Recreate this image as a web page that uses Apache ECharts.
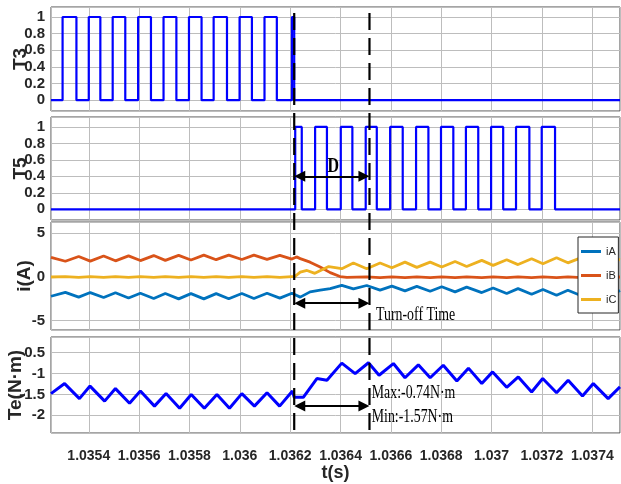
<!DOCTYPE html>
<html><head><meta charset="utf-8">
<script src="https://cdn.jsdelivr.net/npm/echarts@6/dist/echarts.min.js"></script>
<style>html,body{margin:0;padding:0;background:#fff}#c{width:621px;height:484px}</style>
</head><body><div id="c"></div>
<script>
// ---- data ----
const X_MIN = 1.03525, X_MAX = 1.03751;
const DASH_T = [1.036216, 1.036515];
const ARROW_T = [1.036238, 1.036493];

const T3_rise = [1.035296, 1.0354, 1.035495, 1.035596, 1.035697, 1.035798, 1.035896, 1.035999, 1.036098, 1.036207];
const T3_fall = [1.035351, 1.035446, 1.035545, 1.035647, 1.035748, 1.035848, 1.035949, 1.036048, 1.036147, 1.036216];

const T5_rise = [1.03622, 1.036299, 1.036401, 1.0365, 1.036597, 1.0367, 1.036799, 1.036898, 1.036998, 1.037097, 1.037199];
const T5_fall = [1.036246, 1.036346, 1.036447, 1.036544, 1.036647, 1.036749, 1.036848, 1.036947, 1.037046, 1.03715, 1.037252];

const iA_t = [1.03525, 1.035307, 1.03536, 1.035406, 1.035459, 1.035506, 1.035558, 1.035605, 1.035658, 1.035704, 1.035757, 1.035806, 1.035857, 1.035906, 1.035956, 1.036008, 1.036056, 1.036108, 1.036159, 1.036207, 1.03624, 1.036279, 1.036319, 1.036359, 1.036405, 1.036451, 1.036504, 1.036557, 1.036604, 1.036656, 1.036703, 1.036756, 1.036802, 1.036855, 1.036901, 1.036961, 1.037006, 1.03706, 1.037105, 1.037159, 1.037204, 1.037258, 1.037303, 1.037359, 1.037402, 1.037462, 1.03751];
const iA_v = [-2.2, -1.75, -2.3, -1.78, -2.35, -1.8, -2.4, -1.85, -2.45, -1.88, -2.5, -1.9, -2.5, -1.9, -2.48, -1.88, -2.45, -1.86, -2.42, -1.85, -2.3, -1.7, -1.5, -1.32, -0.95, -1.35, -0.97, -1.5, -1.05, -1.58, -1.07, -1.63, -1.12, -1.7, -1.16, -1.78, -1.25, -1.88, -1.33, -1.98, -1.42, -2.08, -1.52, -2.18, -1.6, -2.25, -1.55];

const iB_t = [1.03525, 1.035307, 1.03536, 1.035406, 1.035459, 1.035506, 1.035558, 1.035605, 1.035658, 1.035704, 1.035757, 1.035806, 1.035857, 1.035906, 1.035956, 1.036008, 1.036056, 1.036108, 1.036159, 1.036207, 1.036225, 1.03624, 1.036279, 1.036319, 1.036359, 1.036398, 1.036425, 1.036504, 1.036557, 1.036604, 1.036656, 1.036703, 1.036756, 1.036802, 1.036855, 1.036901, 1.036961, 1.037006, 1.03706, 1.037105, 1.037159, 1.037204, 1.037258, 1.037303, 1.037359, 1.037402, 1.037462, 1.03751];
const iB_v = [2.25, 1.8, 2.35, 1.82, 2.4, 1.85, 2.42, 1.88, 2.45, 1.9, 2.48, 1.95, 2.5, 1.98, 2.5, 2.0, 2.5, 2.02, 2.48, 2.05, 2.3, 2.1, 1.7, 1.15, 0.5, 0.05, -0.05, 0.02, -0.06, 0.02, -0.06, 0.02, -0.06, 0.02, -0.06, 0.02, -0.06, 0.02, -0.06, 0.02, -0.06, 0.02, -0.06, 0.02, -0.06, 0.02, -0.06, 0.0];

const iC_t = [1.03525, 1.035307, 1.03536, 1.035406, 1.035459, 1.035506, 1.035558, 1.035605, 1.035658, 1.035704, 1.035757, 1.035806, 1.035857, 1.035906, 1.035956, 1.036008, 1.036056, 1.036108, 1.036159, 1.036207, 1.036218, 1.03624, 1.036267, 1.036298, 1.036353, 1.036405, 1.036451, 1.036504, 1.036557, 1.036604, 1.036656, 1.036703, 1.036756, 1.036802, 1.036855, 1.036901, 1.036961, 1.037006, 1.03706, 1.037105, 1.037159, 1.037204, 1.037258, 1.037303, 1.037359, 1.037402, 1.037462, 1.03751];
const iC_v = [0.0, 0.05, -0.05, 0.05, -0.05, 0.05, -0.05, 0.05, -0.05, 0.05, -0.05, 0.05, -0.05, 0.05, -0.05, 0.05, -0.05, 0.05, -0.05, 0.05, 0.05, 0.55, 0.75, 0.42, 1.2, 0.95, 1.6, 0.95, 1.6, 1.05, 1.7, 1.1, 1.7, 1.14, 1.78, 1.2, 1.9, 1.33, 1.97, 1.42, 2.09, 1.52, 2.2, 1.62, 2.25, 1.7, 2.3, 1.97];

const Te_t = [1.03525, 1.035304, 1.035363, 1.035405, 1.035463, 1.035506, 1.035562, 1.035605, 1.035661, 1.035707, 1.035761, 1.035807, 1.035859, 1.035909, 1.035959, 1.036008, 1.036058, 1.036108, 1.036158, 1.036209, 1.036216, 1.036252, 1.036306, 1.036346, 1.036405, 1.036458, 1.036511, 1.036553, 1.03661, 1.036656, 1.036709, 1.036756, 1.036808, 1.036862, 1.036908, 1.036961, 1.037004, 1.03706, 1.037106, 1.037159, 1.037203, 1.037258, 1.037304, 1.037361, 1.037404, 1.037463, 1.03751];
const Te_v = [-1.48, -1.24, -1.6, -1.3, -1.66, -1.36, -1.71, -1.42, -1.78, -1.48, -1.83, -1.5, -1.83, -1.5, -1.83, -1.48, -1.78, -1.46, -1.78, -1.42, -1.57, -1.57, -1.12, -1.16, -0.75, -1.0, -0.74, -1.04, -0.76, -1.1, -0.79, -1.1, -0.8, -1.18, -0.87, -1.24, -0.96, -1.33, -1.08, -1.44, -1.12, -1.46, -1.16, -1.54, -1.24, -1.6, -1.32];

const legendNames = ['iA', 'iB', 'iC'];
const yNames = ['T3', 'T5', 'i(A)', 'Te(N·m)'];
const yRanges = [[-0.13, 1.12], [-0.13, 1.12], [-6.06, 6.29], [-2.424, -0.124]];
const ySplit = [6, 6, 2, 5];

// ---- helpers ----
function pulses(rise, fall) {
  const d = [[X_MIN, 0]];
  for (let i = 0; i < rise.length; i++) d.push([rise[i], 0], [rise[i], 1], [fall[i], 1], [fall[i], 0]);
  d.push([X_MAX, 0]);
  return d;
}
const zip = (t, v) => t.map((x, i) => [x, v[i]]);

const SANS = "'Liberation Sans',Arial,sans-serif";
const SERIF = "'Liberation Serif','Times New Roman',serif";
const TXT = '#262626';
const GRIDC = '#bdbdbd';

const gridPos = [
  {top: 7, height: 104},
  {top: 117, height: 103},
  {top: 222, height: 108},
  {top: 337, height: 96}
];
const nameGaps = [21, 21, 17, 26];

const grids = gridPos.map(g => ({
  left: 51, right: 1, top: g.top, height: g.height,
  show: true, backgroundColor: '#fff', borderColor: '#4a4a4a', borderWidth: 1,
  containLabel: false, outerBoundsMode: 'none'
}));

const xAxes = gridPos.map((g, i) => ({
  type: 'value', gridIndex: i, min: X_MIN, max: X_MAX, splitNumber: 11,
  axisLine: {show: false}, axisTick: {show: false},
  splitLine: {show: true, lineStyle: {color: GRIDC, width: 1}},
  axisLabel: {
    show: i === 3, showMinLabel: false, showMaxLabel: false, margin: 16,
    fontSize: 14, fontWeight: 'bold', fontFamily: SANS, color: TXT,
    formatter: v => String(+v.toFixed(4))
  },
  name: i === 3 ? 't(s)' : '', nameLocation: 'middle', nameGap: 31, nameMoveOverlap: false,
  nameTextStyle: {fontSize: 18, fontWeight: 'bold', fontFamily: SANS, color: TXT}
}));

const yAxes = gridPos.map((g, i) => ({
  type: 'value', gridIndex: i, min: yRanges[i][0], max: yRanges[i][1], splitNumber: ySplit[i],
  axisLine: {show: false}, axisTick: {show: false},
  splitLine: {show: true, lineStyle: {color: GRIDC, width: 1}},
  axisLabel: {
    showMinLabel: false, showMaxLabel: false, margin: 6,
    fontSize: 15, fontWeight: 'bold', fontFamily: SANS, color: TXT,
    formatter: v => String(+v.toFixed(2))
  },
  name: yNames[i], nameLocation: 'middle', nameRotate: 90, nameGap: nameGaps[i], nameMoveOverlap: false,
  nameTextStyle: {fontSize: 19, fontWeight: 'bold', fontFamily: SANS, color: TXT}
}));

const arrowML = (y) => ({
  silent: true, symbol: ['triangle', 'triangle'], symbolSize: 11,
  label: {show: false}, emphasis: {disabled: true},
  lineStyle: {type: 'solid', color: '#000', width: 2},
  data: [[{coord: [ARROW_T[0], y]}, {coord: [ARROW_T[1], y]}]]
});

const lineBase = {type: 'line', showSymbol: false, symbol: 'none', animation: false, emphasis: {disabled: true}};

const option = {
  animation: false,
  backgroundColor: '#fff',
  grid: grids, xAxis: xAxes, yAxis: yAxes,
  legend: {
    data: legendNames, orient: 'vertical', left: 578, top: 237,
    icon: 'rect', itemWidth: 20, itemHeight: 3, itemGap: 13,
    padding: [9, 2, 8, 3], backgroundColor: '#fff', borderColor: '#262626', borderWidth: 1, borderRadius: 0,
    selectedMode: false,
    textStyle: {fontSize: 11, fontFamily: SANS, color: TXT}
  },
  series: [
    Object.assign({}, lineBase, {name: 'T3', xAxisIndex: 0, yAxisIndex: 0, data: pulses(T3_rise, T3_fall), lineStyle: {color: '#0000ff', width: 2.2}, itemStyle: {color: '#0000ff'}}),
    Object.assign({}, lineBase, {name: 'T5', xAxisIndex: 1, yAxisIndex: 1, data: pulses(T5_rise, T5_fall), lineStyle: {color: '#0000ff', width: 2.2}, itemStyle: {color: '#0000ff'}, markLine: arrowML(0.4)}),
    Object.assign({}, lineBase, {name: 'iA', xAxisIndex: 2, yAxisIndex: 2, data: zip(iA_t, iA_v), lineStyle: {color: '#0072BD', width: 2.8}, itemStyle: {color: '#0072BD'}, markLine: arrowML(-3)}),
    Object.assign({}, lineBase, {name: 'iB', xAxisIndex: 2, yAxisIndex: 2, data: zip(iB_t, iB_v), lineStyle: {color: '#D95319', width: 2.8}, itemStyle: {color: '#D95319'}}),
    Object.assign({}, lineBase, {name: 'iC', xAxisIndex: 2, yAxisIndex: 2, data: zip(iC_t, iC_v), lineStyle: {color: '#EDB120', width: 2.8}, itemStyle: {color: '#EDB120'}}),
    Object.assign({}, lineBase, {name: 'Te', xAxisIndex: 3, yAxisIndex: 3, data: zip(Te_t, Te_v), lineStyle: {color: '#0000ff', width: 3}, itemStyle: {color: '#0000ff'}, markLine: arrowML(-1.78)})
  ]
};

const chart = echarts.init(document.getElementById('c'), null, {renderer: 'canvas'});
chart.setOption(option);

const px = (g, x, y) => chart.convertToPixel({gridIndex: g}, [x, y]);
const xa = px(0, DASH_T[0], 0)[0];
const xb = px(0, DASH_T[1], 0)[0];
const pD = px(1, 1.036371, 0.52);
const pTurn = px(2, 1.036541, -4.38);
const pMax = px(3, 1.036524, -1.476);
const pMin = px(3, 1.036524, -2.037);

const dash = (x) => ({type: 'line', z: 100, silent: true,
  shape: {x1: x, y1: 13, x2: x, y2: 438},
  style: {stroke: '#000', lineWidth: 2.2, lineDash: [17, 8]}});
const txt = (p, s, font, sx, align) => ({type: 'text', z: 101, silent: true, x: p[0], y: p[1], scaleX: sx,
  style: {text: s, font: font, fill: '#000', align: align, verticalAlign: 'middle'}});

chart.setOption({graphic: [
  dash(xa), dash(xb),
  txt(pD, 'D', "bold 20px " + SERIF, 0.8, 'center'),
  txt(pTurn, 'Turn-off Time', "18px " + SERIF, 0.77, 'left'),
  txt(pMax, 'Max:-0.74N·m', "18px " + SERIF, 0.77, 'left'),
  txt(pMin, 'Min:-1.57N·m', "18px " + SERIF, 0.77, 'left')
]});
</script>
</body></html>
